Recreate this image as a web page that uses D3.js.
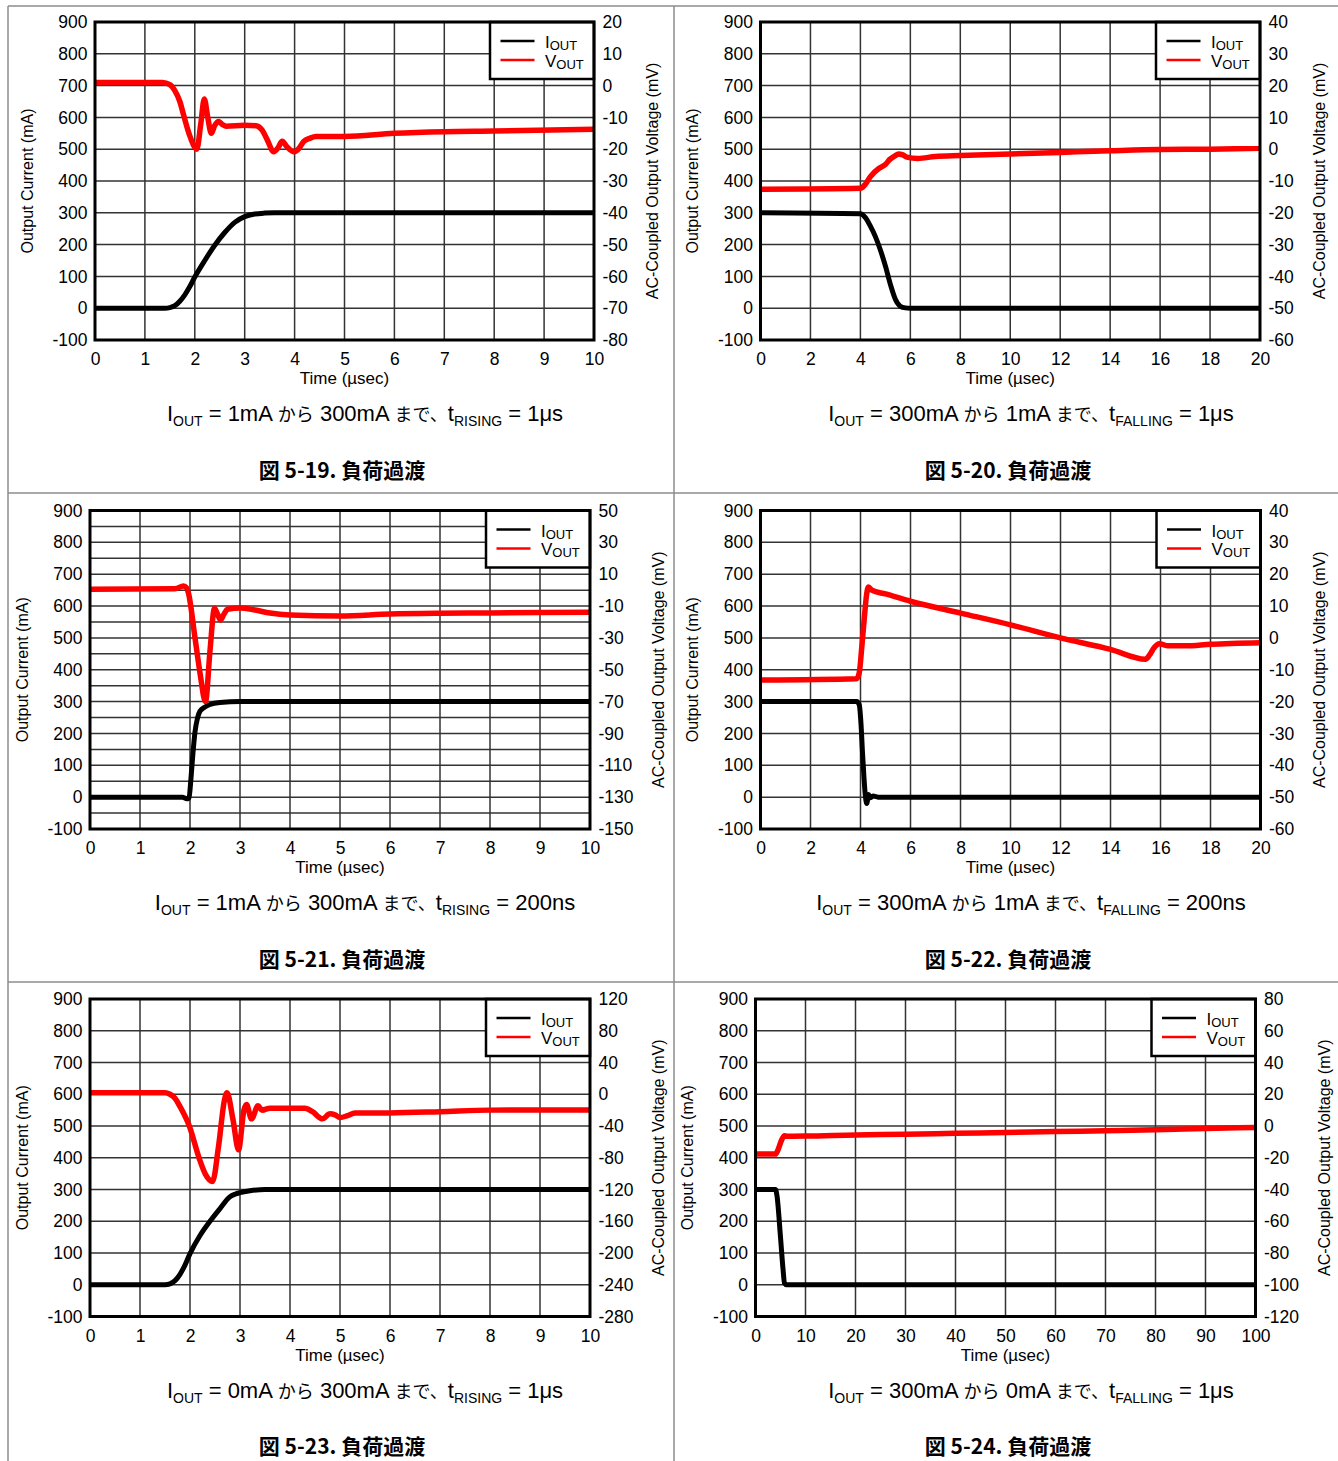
<!DOCTYPE html>
<html>
<head>
<meta charset="utf-8">
<script src="https://cdnjs.cloudflare.com/ajax/libs/d3/7.8.5/d3.min.js"></script>
<style>
  body { margin: 0; background: #fff; }
  svg { display: block; font-family: "Liberation Sans", Arial, sans-serif; }
  .tick text { font-family: "Liberation Sans", Arial, sans-serif; font-size: 17.5px; fill: #000; }
</style>
</head>
<body>
<svg id="page" width="1338" height="1461"></svg>
<script>
// ---- data (time in usec, current in mA, voltage in mV) ----
var currentTicks = [-100, 0, 100, 200, 300, 400, 500, 600, 700, 800, 900];

var p1IoutT = [0, 1.4, 1.5, 1.6, 1.7, 1.8, 1.9, 2.0, 2.2, 2.4, 2.6, 2.8, 3.0, 3.2, 3.4, 3.6, 10];
var p1Iout  = [0, 0, 2, 8, 22, 42, 68, 98, 150, 198, 238, 270, 288, 296, 299, 300, 300];
var p1VoutT = [0, 1.35, 1.5, 1.6, 1.7, 1.78, 1.9, 2.04, 2.12, 2.19, 2.26, 2.33, 2.4, 2.48, 2.56, 2.63, 3.0, 3.23, 3.35, 3.45, 3.58, 3.67, 3.75, 3.85, 3.99, 4.1, 4.18, 4.3, 4.43, 5, 6, 7, 8, 10];
var p1Vout  = [1, 1, 0.3, -1.6, -5, -9.5, -15.8, -20, -12, -4.2, -10, -15, -12.5, -11.3, -12.3, -12.8, -12.5, -12.6, -14, -17, -20.8, -19.5, -17.5, -19.3, -20.8, -19.5, -17.6, -16.6, -16, -16, -15, -14.5, -14.3, -13.7];

var p2IoutT = [0, 4.0, 4.2, 4.4, 4.6, 4.8, 5.0, 5.2, 5.4, 5.6, 5.8, 6.0, 20];
var p2Iout  = [300, 297, 285, 258, 225, 183, 133, 75, 28, 6, 1, 0, 0];
var p2VoutT = [0, 4.0, 4.2, 4.4, 4.75, 5.0, 5.18, 5.4, 5.52, 5.7, 5.86, 6.3, 7, 8, 10, 12, 14, 16, 18, 20];
var p2Vout  = [-12.6, -12.3, -11, -8.6, -6, -4.8, -3.2, -2, -1.5, -1.8, -2.5, -2.9, -2.3, -2, -1.5, -1, -0.5, -0.1, 0, 0.3];

var p3IoutT = [0, 1.85, 1.9, 1.95, 1.98, 2.02, 2.06, 2.1, 2.15, 2.2, 2.3, 2.4, 2.6, 3.0, 10];
var p3Iout  = [0, 0, -3, -5, -3, 60, 140, 205, 248, 270, 283, 291, 297, 300, 300];
var p3VoutT = [0, 1.7, 1.87, 1.93, 1.97, 2.1, 2.2, 2.31, 2.4, 2.49, 2.55, 2.61, 2.68, 2.75, 3.0, 3.3, 3.6, 4.0, 5.0, 6.0, 7, 8, 10];
var p3Vout  = [0.5, 0.8, 2.6, 1.5, -2, -30, -52, -70, -38, -11.4, -15, -18.7, -15, -12, -11.2, -12.5, -14.4, -15.6, -16.2, -15, -14.5, -14.3, -13.9];

var p4IoutT = [0, 3.85, 3.95, 4.02, 4.08, 4.14, 4.2, 4.25, 4.32, 4.4, 4.5, 4.7, 20];
var p4Iout  = [300, 300, 290, 230, 140, 60, 0, -20, 8, -2, 4, 0, 0];
var p4VoutT = [0, 3.85, 3.95, 4.05, 4.15, 4.25, 4.32, 4.45, 5, 6, 8, 10, 12, 14, 15.4, 15.55, 15.75, 15.95, 16.3, 17, 18, 20];
var p4Vout  = [-13.2, -12.8, -11, -3, 6, 14, 16, 15, 13.8, 11.5, 7.8, 4.1, 0, -3.6, -6.7, -5.5, -3, -1.8, -2.5, -2.5, -2, -1.5];

var p5IoutT = [0, 1.5, 1.6, 1.7, 1.8, 1.9, 2.0, 2.2, 2.4, 2.6, 2.8, 2.9, 3.0, 3.2, 3.5, 10];
var p5Iout  = [0, 0, 3, 13, 33, 62, 98, 155, 200, 240, 277, 285, 290, 296, 300, 300];
var p5VoutT = [0, 1.5, 1.6, 1.7, 1.8, 1.99, 2.18, 2.31, 2.45, 2.57, 2.69, 2.74, 2.86, 2.97, 3.08, 3.13, 3.23, 3.36, 3.44, 3.6, 4.3, 4.45, 4.65, 4.8, 4.9, 5.0, 5.15, 5.3, 6, 7, 8, 10];
var p5Vout  = [2, 2, 0, -5, -15.5, -40.6, -80, -101, -110, -66, -7, 2, -32, -70, -19.6, -13, -31, -14.6, -20, -17.5, -17.5, -22, -31, -24.7, -26, -29.4, -27, -23.5, -23.5, -22, -20, -19.7];

var p6IoutT = [0, 4.0, 4.3, 5.0, 5.5, 5.8, 6.2, 100];
var p6Iout  = [300, 300, 280, 150, 50, 5, 0, 0];
var p6VoutT = [0, 4.0, 4.5, 5.2, 5.8, 6.3, 10, 20, 30, 40, 50, 60, 70, 80, 90, 100];
var p6Vout  = [-17.7, -17.7, -15, -9, -6.2, -6.4, -6.3, -5.6, -5.2, -4.6, -4.1, -3.5, -3, -2.4, -1.6, -0.9];

var timeMax = [10, 20, 10, 20, 10, 100];
var timeStep = [1, 2, 1, 2, 1, 10];
var voltMin = [-80, -60, -150, -60, -280, -120];
var voltMax = [20, 40, 50, 40, 120, 80];
var voltStep = [10, 10, 20, 10, 40, 20];

var captionFrom = ["1mA", "300mA", "1mA", "300mA", "0mA", "300mA"];
var captionTo = ["300mA", "1mA", "300mA", "1mA", "300mA", "0mA"];
var captionEdge = ["RISING", "FALLING", "RISING", "FALLING", "RISING", "FALLING"];
var captionTime = ["1μs", "1μs", "200ns", "200ns", "1μs", "1μs"];
var figNums = ["5-19", "5-20", "5-21", "5-22", "5-23", "5-24"];

var ioutT = [p1IoutT, p2IoutT, p3IoutT, p4IoutT, p5IoutT, p6IoutT];
var iout = [p1Iout, p2Iout, p3Iout, p4Iout, p5Iout, p6Iout];
var voutT = [p1VoutT, p2VoutT, p3VoutT, p4VoutT, p5VoutT, p6VoutT];
var vout = [p1Vout, p2Vout, p3Vout, p4Vout, p5Vout, p6Vout];

// plot boxes on the page
var boxes = [
  { left: 95, top: 22, w: 499, h: 318, rOff: 58, capX: 365, figX: 342 },
  { left: 760.5, top: 22, w: 499.5, h: 318, rOff: 59, capX: 1031, figX: 1008 },
  { left: 90, top: 510.5, w: 500, h: 318.5, rOff: 68, capX: 365, figX: 342, fine: true },
  { left: 760.5, top: 510.5, w: 500, h: 318.5, rOff: 59, capX: 1031, figX: 1008 },
  { left: 90, top: 999, w: 500, h: 317.5, rOff: 68, capX: 365, figX: 342 },
  { left: 755.5, top: 999, w: 500, h: 317.5, rOff: 68.5, capX: 1031, figX: 1008 }
];

var svg = d3.select("#page");
var plain = d => String(d);   // keep ascii hyphen for negatives

function frame() {
  var s = "#8c8c8c";
  [[8, 6, 1338, 6], [8, 6, 8, 1461], [674, 6, 674, 1461], [8, 493, 1338, 493], [8, 982, 1338, 982]]
  .forEach(function (l) {
    svg.append("line")
    .attr("x1", l[0]).attr("y1", l[1]).attr("x2", l[2]).attr("y2", l[3])
    .attr("stroke", s).attr("stroke-width", 1.5);
  });
}

function chart(i) {
  var b = boxes[i];
  var g = svg.append("g").attr("transform", `translate(${b.left},${b.top})`);

  var x = d3.scaleLinear().domain([0, timeMax[i]]).range([0, b.w]);
  var y = d3.scaleLinear().domain([-100, 900]).range([b.h, 0]);
  var y2 = d3.scaleLinear().domain([voltMin[i], voltMax[i]]).range([b.h, 0]);

  var xTicks = d3.range(0, timeMax[i] + timeStep[i] / 2, timeStep[i]);
  var vTicks = d3.range(voltMin[i], voltMax[i] + voltStep[i] / 2, voltStep[i]);
  var hLines = b.fine ? d3.range(-50, 900, 50) : currentTicks.slice(1, -1);

  // grid
  g.append("g").selectAll("line")
  .data(xTicks.slice(1, -1))
  .join("line")
  .attr("x1", d => x(d)).attr("x2", d => x(d))
  .attr("y1", 0).attr("y2", b.h)
  .attr("stroke", "#333").attr("stroke-width", 1.5);

  g.append("g").selectAll("line")
  .data(hLines)
  .join("line")
  .attr("x1", 0).attr("x2", b.w)
  .attr("y1", d => y(d)).attr("y2", d => y(d))
  .attr("stroke", "#333").attr("stroke-width", 1.5);

  // traces
  g.append("clipPath").attr("id", "clip" + i)
  .append("rect").attr("width", b.w).attr("height", b.h);

  var iLine = d3.line().x(d => x(d[0])).y(d => y(d[1])).curve(d3.curveMonotoneX);
  var vLine = d3.line().x(d => x(d[0])).y(d => y2(d[1])).curve(d3.curveMonotoneX);

  g.append("path")
  .attr("clip-path", `url(#clip${i})`)
  .attr("d", iLine(d3.zip(ioutT[i], iout[i])))
  .attr("fill", "none").attr("stroke", "#000").attr("stroke-width", 5)
  .attr("stroke-linejoin", "round");

  g.append("path")
  .attr("clip-path", `url(#clip${i})`)
  .attr("d", vLine(d3.zip(voutT[i], vout[i])))
  .attr("fill", "none").attr("stroke", "#ff0000").attr("stroke-width", 5.5)
  .attr("stroke-linejoin", "round");

  // legend
  var lg = g.append("g").attr("transform", `translate(${b.w - 104},0)`);
  lg.append("rect").attr("width", 104).attr("height", 57)
  .attr("fill", "#fff").attr("stroke", "#000").attr("stroke-width", 2.5);
  [["I", "#000", 19, 26], ["V", "#ff0000", 38, 44.5]].forEach(function (e) {
    lg.append("line").attr("x1", 10.5).attr("x2", 44.5).attr("y1", e[2]).attr("y2", e[2])
    .attr("stroke", e[1]).attr("stroke-width", 2.5);
    var t = lg.append("text").attr("x", 55).attr("y", e[3]).style("font-size", "17px");
    t.append("tspan").text(e[0]);
    t.append("tspan").attr("dy", 2).style("font-size", "13px").text("OUT");
  });

  // plot border
  g.append("rect").attr("width", b.w).attr("height", b.h)
  .attr("fill", "none").attr("stroke", "#000").attr("stroke-width", 3);

  // axes
  g.append("g")
  .call(d3.axisLeft(y).tickValues(currentTicks).tickFormat(plain).tickSize(0).tickPadding(7.5))
  .call(a => a.select(".domain").remove());

  g.append("g")
  .attr("transform", `translate(${b.w},0)`)
  .call(d3.axisRight(y2).tickValues(vTicks).tickFormat(plain).tickSize(0).tickPadding(8.5))
  .call(a => a.select(".domain").remove());

  g.append("g")
  .attr("transform", `translate(0,${b.h})`)
  .call(d3.axisBottom(x).tickValues(xTicks).tickFormat(plain).tickSize(0).tickPadding(13))
  .call(a => a.select(".domain").remove());

  // axis titles
  g.append("text")
  .attr("x", b.w / 2).attr("y", b.h + 44)
  .attr("text-anchor", "middle").style("font-size", "17px")
  .text("Time (\u00b5sec)");

  g.append("text")
  .attr("transform", `translate(${-68 + 5.7},${b.h / 2}) rotate(-90)`)
  .attr("text-anchor", "middle").style("font-size", "16px")
  .text("Output Current (mA)");

  g.append("text")
  .attr("transform", `translate(${b.w + b.rOff + 5.7},${b.h / 2}) rotate(-90)`)
  .attr("text-anchor", "middle").style("font-size", "16px")
  .text("AC-Coupled Output Voltage (mV)");

  // caption with subscripts
  var parts = [
    ["I", 0], ["OUT", 1], [` = ${captionFrom[i]} `, 0], ["から", 2],
    [` ${captionTo[i]} `, 0], ["まで、", 2], ["t", 0], [captionEdge[i], 1],
    [` = ${captionTime[i]}`, 0]
  ];
  var cap = svg.append("text")
  .attr("x", b.capX).attr("y", b.top + b.h + 81)
  .attr("text-anchor", "middle")
  .style("font-size", "22px").style("white-space", "pre");
  var low = false;
  parts.forEach(function (p) {
    var ts = cap.append("tspan").text(p[0]);
    if (p[1] == 1) {
      ts.style("font-size", "14px");
      if (!low) { ts.attr("dy", 5); low = true; }
    } else {
      if (low) { ts.attr("dy", -5); low = false; }
      if (p[1] == 2) ts.style("font-family", "'Noto Sans CJK JP'").style("font-size", "18px");
    }
  });

  svg.append("text")
  .attr("x", b.figX).attr("y", b.top + b.h + 137.5)
  .attr("text-anchor", "middle")
  .style("font-family", "'Noto Sans CJK JP', sans-serif")
  .style("font-weight", "bold").style("font-size", "21px")
  .text(`図 ${figNums[i]}. 負荷過渡`);
}

frame();
d3.range(6).forEach(chart);
</script>
</body>
</html>
